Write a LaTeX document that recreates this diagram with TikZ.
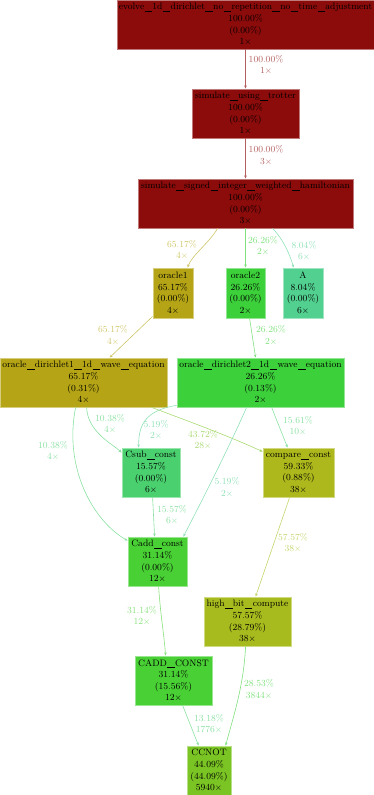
\documentclass[tikz,border=0pt]{standalone}
\usetikzlibrary{arrows.meta,calc}
\definecolor{cred}{HTML}{8C0B0B}
\definecolor{colive}{HTML}{B5A516}
\definecolor{ccmp}{HTML}{ADB81C}
\definecolor{chigh}{HTML}{A7BB1E}
\definecolor{cccnot}{HTML}{7AC424}
\definecolor{cadd}{HTML}{48D034}
\definecolor{cgreen}{HTML}{3CD03A}
\definecolor{csub}{HTML}{4AD06E}
\definecolor{cA}{HTML}{52D090}
\newcommand\fs{\fontsize{9.3}{11.6}\selectfont}
\newcommand\us{\kern0.3pt\rule[-1.6pt]{7.6pt}{0.45pt}\kern0.3pt}
\newcommand\tm{$\times$}
\tikzset{
  fn/.style={draw=#1!55!white, fill=#1, line width=0.8pt, minimum height=49pt,
    inner sep=0pt, align=center, font=\fs, text=black},
  ed/.style={draw=#1!65!white, line width=0.6pt,
    -{Stealth[length=3.2pt,width=2.6pt]}},
  lab/.style={text=#1!65!white, font=\fs, align=center, inner sep=0pt},
}
\begin{document}
\begin{tikzpicture}[x=1pt,y=-1pt]
\useasboundingbox (0,0) rectangle (374,795);
% nodes
\node[fn=cred, minimum width=257pt] (ev) at (245.5,24.5)
  {evolve\us1d\us dirichlet\us no\us repetition\us no\us time\us adjustment\\100.00\%\\(0.00\%)\\1\tm};
\node[fn=cred, minimum width=107pt] (tr) at (245.5,113.5)
  {simulate\us using\us trotter\\100.00\%\\(0.00\%)\\1\tm};
\node[fn=cred, minimum width=215pt] (sig) at (245.5,203.5)
  {simulate\us signed\us integer\us weighted\us hamiltonian\\100.00\%\\(0.00\%)\\3\tm};
\node[fn=colive, minimum width=40pt, minimum height=50pt] (or1) at (173,293)
  {oracle1\\65.17\%\\(0.00\%)\\4\tm};
\node[fn=cgreen, minimum width=39pt, minimum height=50pt] (or2) at (245.5,293)
  {oracle2\\26.26\%\\(0.00\%)\\2\tm};
\node[fn=cA, minimum width=40pt, minimum height=50pt] (A) at (303,293)
  {A\\8.04\%\\(0.00\%)\\6\tm};
\node[fn=colive, minimum width=167pt] (od1) at (83.5,382.5)
  {oracle\us dirichlet1\us 1d\us wave\us equation\\65.17\%\\(0.31\%)\\4\tm};
\node[fn=cgreen, minimum width=167pt] (od2) at (260.5,382.5)
  {oracle\us dirichlet2\us 1d\us wave\us equation\\26.26\%\\(0.13\%)\\2\tm};
\node[fn=csub, minimum width=58pt] (csub) at (151,472.5)
  {Csub\us const\\15.57\%\\(0.00\%)\\6\tm};
\node[fn=ccmp, minimum width=71pt] (cmp) at (298.5,472.5)
  {compare\us const\\59.33\%\\(0.88\%)\\38\tm};
\node[fn=cadd, minimum width=59pt] (cadd) at (157.5,561.5)
  {Cadd\us const\\31.14\%\\(0.00\%)\\12\tm};
\node[fn=chigh, minimum width=87pt] (hb) at (247.5,621.5)
  {high\us bit\us compute\\57.57\%\\(28.79\%)\\38\tm};
\node[fn=cadd, minimum width=77pt] (CADD) at (173.5,680.5)
  {CADD\us CONST\\31.14\%\\(15.56\%)\\12\tm};
\node[fn=cccnot, minimum width=44pt] (cc) at (209,770.5)
  {CCNOT\\44.09\%\\(44.09\%)\\5940\tm};
% edges
\draw[ed=cred] (ev.south) -- (tr.north);
\node[lab=cred] (l1) at (266,65) {100.00\%\\1\tm};
\draw[ed=cred] (tr.south) -- (sig.north);
\node[lab=cred] (l2) at (266,155.5) {100.00\%\\3\tm};
\draw[ed=colive] ($(sig.south west)+(80,0)$) .. controls +(-8,14) and +(4,-12) .. ($(or1.north west)+(35,0)$);
\node[lab=colive] (l3) at (182,250) {65.17\%\\4\tm};
\draw[ed=cgreen] (sig.south) -- (or2.north);
\node[lab=cgreen] (l4) at (263,246) {26.26\%\\2\tm};
\draw[ed=cA] ($(sig.south west)+(135,0)$) .. controls +(10,10) and +(-4,-14) .. ($(A.north west)+(11,0)$);
\node[lab=cA] (l5) at (304,251) {8.04\%\\6\tm};
\draw[ed=colive] ($(or1.south west)+(0,-2)$) -- ($(od1.north west)+(110,0)$);
\node[lab=colive] (l6) at (113,335.5) {65.17\%\\4\tm};
\draw[ed=cgreen] ($(or2.south west)+(24,0)$) -- ($(od2.north west)+(79,0)$);
\node[lab=cgreen] (l7) at (271,335.5) {26.26\%\\2\tm};
% from od1
\draw[ed=csub] ($(od1.south west)+(87,0)$) .. controls +(1,25) and +(-8,-8) .. ($(csub.north west)+(0,5)$);
\node[lab=csub] (l8) at (110,424) {10.38\%\\4\tm};
\draw[ed=csub] ($(od1.south west)+(76,0)$) .. controls +(-12,60) and +(-35,-20) .. ($(cadd.north west)+(0,4)$);
\node[lab=csub] (l9) at (53,451) {10.38\%\\4\tm};
\draw[ed=cccnot] ($(od1.south west)+(152,0)$) .. controls +(40,15) and +(-35,-16) .. ($(cmp.north west)+(0,4)$);
\node[lab=cccnot] (l10) at (203,440) {43.72\%\\28\tm};
% from od2
\draw[ed=cA] ($(od2.south west)+(0,-2)$) .. controls +(-32,5) and +(0,-22) .. ($(csub.north west)+(17,0)$);
\node[lab=cA] (l11) at (156,430) {5.19\%\\2\tm};
\draw[ed=cA] ($(od2.south west)+(70,0)$) .. controls +(-20,45) and +(18,-35) .. ($(cadd.north east)+(-4,0)$);
\node[lab=cA] (l12) at (227,487.5) {5.19\%\\2\tm};
\draw[ed=csub] ($(od2.south west)+(95,0)$) -- ($(cmp.north west)+(25,0)$);
\node[lab=csub] (l13) at (298,426) {15.61\%\\10\tm};
% lower
\draw[ed=csub] ($(csub.south west)+(31,0)$) -- ($(cadd.north west)+(27,0)$);
\node[lab=csub] (l14) at (172,515) {15.57\%\\6\tm};
\draw[ed=chigh] ($(cmp.south west)+(27,0)$) -- ($(hb.north west)+(52,0)$);
\node[lab=chigh] (l15) at (293,543) {57.57\%\\38\tm};
\draw[ed=cadd] ($(cadd.south west)+(31,0)$) .. controls +(2,30) and +(-2,-25) .. ($(CADD.north west)+(31,0)$);
\node[lab=cadd] (l16) at (142,616) {31.14\%\\12\tm};
\draw[ed=csub] ($(CADD.south west)+(48,0)$) -- ($(cc.north west)+(12,0)$);
\node[lab=csub] (l17) at (209,724) {13.18\%\\1776\tm};
\draw[ed=cgreen] ($(hb.south west)+(42,0)$) .. controls +(-2,40) and +(8,-30) .. ($(cc.north west)+(39,0)$);
\node[lab=cgreen] (l18) at (259,689.5) {28.53\%\\3844\tm};
\end{tikzpicture}
\end{document}
